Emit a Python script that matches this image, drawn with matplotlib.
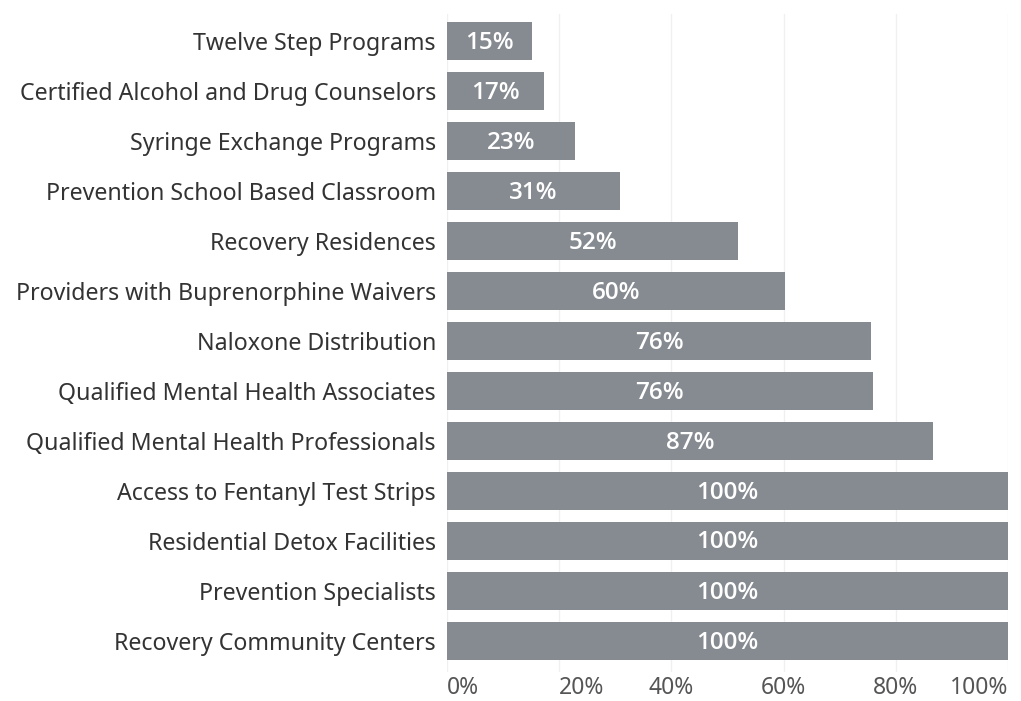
import matplotlib.pyplot as plt
import numpy as np

kategorie = [
    "Twelve Step Programs",
    "Certified Alcohol and Drug Counselors",
    "Syringe Exchange Programs",
    "Prevention School Based Classroom",
    "Recovery Residences",
    "Providers with Buprenorphine Waivers",
    "Naloxone Distribution",
    "Qualified Mental Health Associates",
    "Qualified Mental Health Professionals",
    "Access to Fentanyl Test Strips",
    "Residential Detox Facilities",
    "Prevention Specialists",
    "Recovery Community Centers",
]
wartosci = [15.1, 17.3, 22.8, 30.8, 51.9, 60.2, 75.6, 75.9, 86.6, 100, 100, 100, 100]
ticki = [0, 20, 40, 60, 80, 100]

plt.rcParams['font.family'] = ['Noto Sans', 'DejaVu Sans']

fig = plt.figure(figsize=(10.21, 7.01), dpi=100)
ax = fig.add_axes([447 / 1021, 29 / 701, 561 / 1021, 658 / 701])

y = np.arange(len(kategorie))
ax.barh(y, wartosci, height=0.76, color='#868b91', zorder=2)
for yi, v in zip(y, wartosci):
    ax.text(v / 2, yi + 0.03, f"{v:.0f}%", ha='center', va='center',
            color='white', fontsize=17.5, fontweight='semibold',
            family=['Open Sans', 'DejaVu Sans'], zorder=3)

ax.set_xlim(0, 100)
ax.set_ylim(12.62, -0.54)
ax.set_yticks(y)
ax.set_yticklabels(kategorie, fontsize=16.7, color='#333333')
ax.set_xticks(ticki)
ax.set_xticklabels([f"{t}%" for t in ticki], fontsize=16.5, color='#555555')
for lab, ha in zip(ax.get_xticklabels(), ['left', 'left', 'center', 'center', 'center', 'right']):
    lab.set_ha(ha)
ax.tick_params(axis='both', length=0)
ax.tick_params(axis='x', pad=3)
ax.tick_params(axis='y', pad=8)
ax.grid(axis='x', color='#f0f0f0', linewidth=1, zorder=0)
for s in ax.spines.values():
    s.set_visible(False)

plt.savefig('out.png', dpi=100)
